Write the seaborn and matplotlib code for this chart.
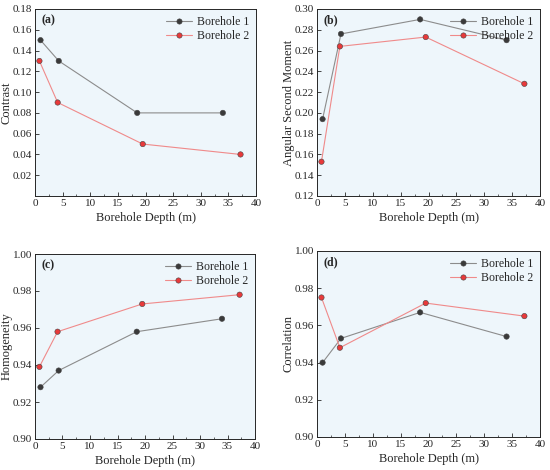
import numpy as np
import pandas as pd
import matplotlib
matplotlib.use("Agg")
import matplotlib.pyplot as plt
import seaborn as sns
from matplotlib.ticker import MultipleLocator

# depths for the two boreholes (m)
depth_b1 = [1.0, 4.3, 18.5, 34.0]
depth_b2 = [0.8, 4.1, 19.5, 37.2]

# texture features
contrast_b1 = [0.150, 0.130, 0.080, 0.080]
contrast_b2 = [0.130, 0.090, 0.050, 0.040]
asm_b1 = [0.194, 0.276, 0.290, 0.270]
asm_b2 = [0.153, 0.264, 0.273, 0.228]
homog_b1 = [0.928, 0.937, 0.958, 0.965]
homog_b2 = [0.939, 0.958, 0.973, 0.978]
corr_b1 = [0.940, 0.953, 0.967, 0.954]
corr_b2 = [0.975, 0.948, 0.972, 0.965]

sns.set_theme(style="ticks")
plt.rcParams["font.family"] = ["Liberation Serif", "DejaVu Serif"]

panels = [
    ("(a)", "Contrast", contrast_b1, contrast_b2, (0.0, 0.18), np.arange(0.02, 0.181, 0.02)),
    ("(b)", "Angular Second Moment", asm_b1, asm_b2, (0.12, 0.30), np.arange(0.12, 0.301, 0.02)),
    ("(c)", "Homogeneity", homog_b1, homog_b2, (0.90, 1.00), np.arange(0.90, 1.001, 0.02)),
    ("(d)", "Correlation", corr_b1, corr_b2, (0.90, 1.00), np.arange(0.90, 1.001, 0.02)),
]

# axes boxes in pixels (left, top, right, bottom)
W, H = 550, 470
boxes = [(35, 9, 256, 196), (317, 9, 540, 196), (35, 254, 255, 439), (317, 251, 540, 437)]

fig = plt.figure(figsize=(5.5, 4.7), dpi=100)
bg = "#EEF6FB"
line_cols = {"Borehole 1": "#8C8C8C", "Borehole 2": "#F08A8A"}
mk_cols = {"Borehole 1": "#3A3A3A", "Borehole 2": "#E8393A"}

for (tag, ylab, b1, b2, ylim, yticks), (l, t, r, b) in zip(panels, boxes):
    ax = fig.add_axes([l / W, 1 - b / H, (r - l) / W, (b - t) / H])
    ax.set_facecolor(bg)
    df = pd.DataFrame({
        "depth": depth_b1 + depth_b2,
        "value": b1 + b2,
        "well": ["Borehole 1"] * len(b1) + ["Borehole 2"] * len(b2),
    })
    sns.lineplot(data=df, x="depth", y="value", hue="well", palette=line_cols,
                 sort=False, lw=0.8, ax=ax, legend=False)
    sns.scatterplot(data=df, x="depth", y="value", hue="well", palette=mk_cols,
                    s=15, edgecolor="#444444", linewidth=0.4, ax=ax, legend=False, zorder=3)
    handles = [
        plt.Line2D([], [], color=line_cols[k], lw=0.8, marker="o", ms=3.8,
                   markerfacecolor=mk_cols[k], markeredgecolor="#444444", markeredgewidth=0.4)
        for k in ["Borehole 1", "Borehole 2"]
    ]
    ax.legend(handles, ["Borehole 1", "Borehole 2"], loc="upper right", frameon=False,
              fontsize=8.5, handlelength=2.2, borderaxespad=0.2, labelspacing=0.2,
              handletextpad=0.4)
    ax.set_xlim(0, 40)
    ax.set_ylim(*ylim)
    ax.set_xticks(range(0, 41, 5))
    ax.xaxis.set_minor_locator(MultipleLocator(2.5))
    ax.set_yticks(yticks)
    ax.set_yticklabels([f"{v:.2f}" for v in yticks])
    ax.tick_params(direction="in", labelsize=8, length=3, width=0.6, pad=2)
    ax.tick_params(which="minor", direction="in", length=1.8, width=0.5)
    for s in ax.spines.values():
        s.set_linewidth(0.7)
    ax.set_xlabel("Borehole Depth (m)", fontsize=9, labelpad=3)
    ax.set_ylabel(ylab, fontsize=9, labelpad=0)
    ax.text(0.03, 0.97, tag, transform=ax.transAxes, ha="left", va="top",
            fontsize=8.5, fontweight="bold")

fig.savefig("out.png", dpi=100, facecolor="white")
